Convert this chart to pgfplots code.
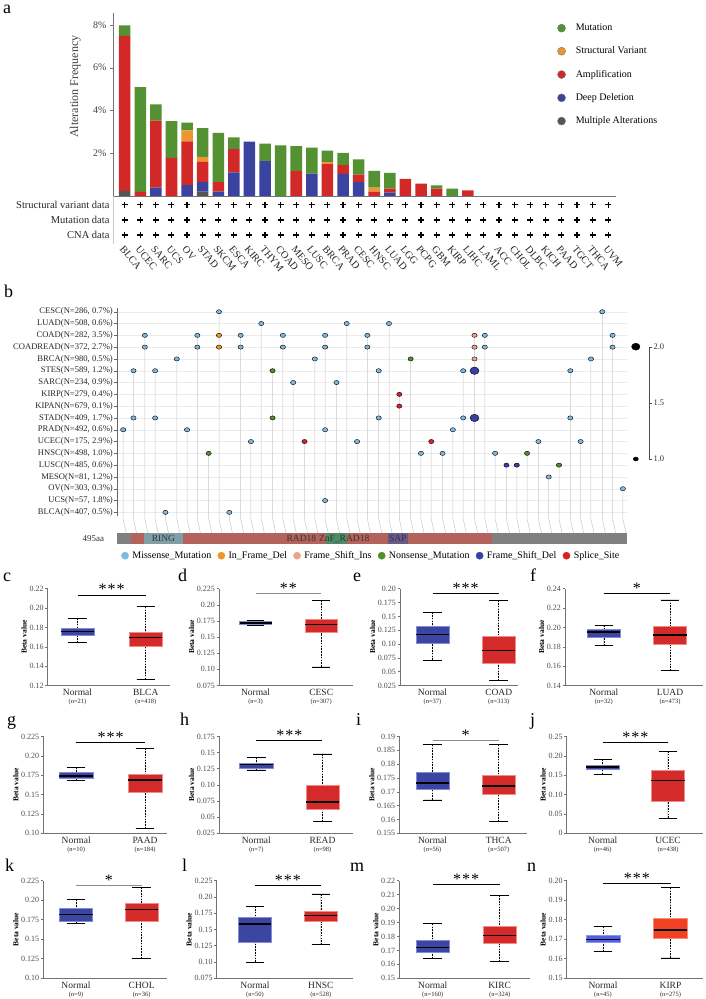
\documentclass[border=0pt]{standalone}
\usepackage{fontspec}
\setmainfont{Liberation Serif}
\usepackage{pgfplots}
\usepackage{pgfplotstable}
\pgfplotsset{compat=1.18}
\usepgfplotslibrary{statistics}

\definecolor{mutgreen}{RGB}{83,145,50}
\definecolor{svorange}{RGB}{235,150,50}
\definecolor{ampred}{RGB}{210,40,40}
\definecolor{delblue}{RGB}{58,68,160}
\definecolor{multigray}{RGB}{85,85,85}
\definecolor{missense}{RGB}{125,185,222}
\definecolor{inframe}{RGB}{240,150,40}
\definecolor{fsins}{RGB}{236,165,140}
\definecolor{nonsense}{RGB}{80,145,40}
\definecolor{fsdel}{RGB}{55,65,165}
\definecolor{splice}{RGB}{215,35,40}
\definecolor{bpblue}{RGB}{58,70,162}
\definecolor{bpblueE}{RGB}{130,140,215}
\definecolor{bpred}{RGB}{212,42,42}
\definecolor{bpredE}{RGB}{240,140,140}
\definecolor{nblue}{RGB}{80,95,230}
\definecolor{nblueE}{RGB}{140,150,240}
\definecolor{nred}{RGB}{240,65,35}
\definecolor{nredE}{RGB}{250,140,120}
\definecolor{pgray}{RGB}{128,128,128}
\definecolor{pbrown}{RGB}{180,98,92}
\definecolor{pring}{RGB}{127,158,166}
\definecolor{pznf}{RGB}{78,140,105}
\definecolor{psap}{RGB}{105,90,140}

\newcommand{\fs}[1]{\fontsize{#1}{#1}\selectfont}

% panel a: alteration frequency (%) per segment
\pgfplotstableread{
x multi del amp sv mut
0 0.23 0 7.26 0 0.49
1 0 0 0.19 0 4.90
2 0 0.39 3.14 0 0.76
3 0 0 1.78 0 1.72
4 0 0.51 2.05 0.51 0.36
5 0.20 0.45 0.95 0.23 1.35
6 0 0.20 0.45 0 2.30
7 0 1.10 1.09 0 0.55
8 0 2.54 0 0 0
9 0 1.63 0 0 0.82
10 0 0 0 0 2.37
11 0 0 1.16 0 1.17
12 0 1.05 0 0 1.21
13 0 0 1.49 0.10 0.53
14 0 1.04 0.40 0 0.58
15 0 0.65 0.35 0 0.71
16 0 0 0.20 0.19 0.79
17 0 0.16 0.18 0 0.74
18 0 0 0.80 0 0
19 0 0 0.58 0 0
20 0 0 0.34 0 0.16
21 0 0 0 0 0.34
22 0 0 0.26 0 0
23 0 0 0 0 0
24 0 0 0 0 0
25 0 0 0 0 0
26 0 0 0 0 0
27 0 0 0 0 0
28 0 0 0 0 0
29 0 0 0 0 0
30 0 0 0 0 0
31 0 0 0 0 0
}\alterdata

\pgfplotstableread{
x sv mut cna
0 3 2 1
1 3 2 1
2 3 2 1
3 3 2 1
4 3 2 1
5 3 2 1
6 3 2 1
7 3 2 1
8 3 2 1
9 3 2 1
10 3 2 1
11 3 2 1
12 3 2 1
13 3 2 1
14 3 2 1
15 3 2 1
16 3 2 1
17 3 2 1
18 3 2 1
19 3 2 1
20 3 2 1
21 3 2 1
22 3 2 1
23 3 2 1
24 3 2 1
25 3 2 1
26 3 2 1
27 3 2 1
28 3 2 1
29 3 2 1
30 3 2 1
31 3 2 1
}\plusdata

\pgfplotsset{
  /pgf/number format/assume math mode=true,
  boxplot/draw/lower whisker/.code={%
    \draw[black, line width=0.55pt, dash pattern=on 1.6pt off 1.2pt]
      (boxplot box cs:\pgfplotsboxplotvalue{lower whisker},0.5) --
      (boxplot box cs:\pgfplotsboxplotvalue{lower quartile},0.5);
    \draw[black, line width=0.6pt, solid]
      (boxplot whisker cs:\pgfplotsboxplotvalue{lower whisker},0) --
      (boxplot whisker cs:\pgfplotsboxplotvalue{lower whisker},1);
  },
  boxplot/draw/upper whisker/.code={%
    \draw[black, line width=0.55pt, dash pattern=on 1.6pt off 1.2pt]
      (boxplot box cs:\pgfplotsboxplotvalue{upper whisker},0.5) --
      (boxplot box cs:\pgfplotsboxplotvalue{upper quartile},0.5);
    \draw[black, line width=0.6pt, solid]
      (boxplot whisker cs:\pgfplotsboxplotvalue{upper whisker},0) --
      (boxplot whisker cs:\pgfplotsboxplotvalue{upper whisker},1);
  },
  bpax/.style={scale only axis, anchor=south west, clip=false,
    axis x line*=bottom, axis y line*=left,
    axis line style={black!55, line width=0.8pt},
    tick align=outside, major tick length=2.5pt, tick style={black!55, line width=0.6pt},
    xtick={1,2}, xtick style={draw=none},
    yticklabel style={font=\fs{8}, text=black!70, inner sep=1.5pt},
    xticklabel style={align=center, font=\fs{9.5}, text=black!85, inner sep=1pt},
    ylabel={Beta value}, ylabel style={font=\bfseries\fs{7.5}, inner sep=1pt},
    boxplot/draw direction=y,
    boxplot/every median/.style={black, line width=1.4pt, solid},
  },
}
\newcommand{\bpbox}[8]{\addplot[fill=#7, draw=#8, line width=0.5pt,
  boxplot prepared={draw position=#1, lower whisker=#2, lower quartile=#3,
  median=#4, upper quartile=#5, upper whisker=#6}] coordinates {};}
\newcommand{\sig}[3]{\addplot[#3] coordinates {(1,#1) (2,#1)};
  \node[anchor=base, font=\fs{16}, inner sep=0pt] at (axis cs:1.5,#1) {#2};}

\begin{document}
\begin{tikzpicture}
\path[use as bounding box] (0pt,0pt) rectangle (705pt,999pt);

% ---------------- panel labels
\node[anchor=base west, font=\fs{18}, inner sep=0pt] at (3pt,985.5pt) {a};
\node[anchor=base west, font=\fs{18}, inner sep=0pt] at (4pt,701pt) {b};
\node[anchor=base west, font=\fs{18}, inner sep=0pt] at (3pt,417pt) {c};
\node[anchor=base west, font=\fs{18}, inner sep=0pt] at (178pt,417pt) {d};
\node[anchor=base west, font=\fs{18}, inner sep=0pt] at (353pt,417pt) {e};
\node[anchor=base west, font=\fs{18}, inner sep=0pt] at (530pt,417pt) {f};
\node[anchor=base west, font=\fs{18}, inner sep=0pt] at (7pt,273pt) {g};
\node[anchor=base west, font=\fs{18}, inner sep=0pt] at (180pt,273pt) {h};
\node[anchor=base west, font=\fs{18}, inner sep=0pt] at (356pt,273pt) {i};
\node[anchor=base west, font=\fs{18}, inner sep=0pt] at (530pt,273pt) {j};
\node[anchor=base west, font=\fs{18}, inner sep=0pt] at (5pt,127pt) {k};
\node[anchor=base west, font=\fs{18}, inner sep=0pt] at (182pt,127pt) {l};
\node[anchor=base west, font=\fs{18}, inner sep=0pt] at (350pt,127pt) {m};
\node[anchor=base west, font=\fs{18}, inner sep=0pt] at (527pt,127pt) {n};

% ---------------- panel a: bars
\begin{axis}[at={(113pt,803pt)}, anchor=south west, scale only axis,
  width=503pt, height=183.3pt,
  xmin=-0.75, xmax=31.5, ymin=0, ymax=8.575,
  ybar stacked, bar width=0.74,
  axis x line*=bottom, axis y line*=left,
  axis line style={black!55, line width=0.8pt},
  xtick=\empty, ytick={2,4,6,8}, yticklabels={2\%,4\%,6\%,8\%},
  tick align=outside, major tick length=3pt, tick style={black!55},
  yticklabel style={font=\fs{10}, text=black!75},
  ylabel={Alteration Frequency},
  every axis y label/.style={at={(axis description cs:-0.075,0.596)}, rotate=90, anchor=center, font=\fs{12}, text=black!75},
]
\addplot[fill=multigray, draw=none] table[x=x, y=multi] {\alterdata};
\addplot[fill=delblue, draw=none] table[x=x, y=del] {\alterdata};
\addplot[fill=ampred, draw=none] table[x=x, y=amp] {\alterdata};
\addplot[fill=svorange, draw=none] table[x=x, y=sv] {\alterdata};
\addplot[fill=mutgreen, draw=none] table[x=x, y=mut] {\alterdata};
\end{axis}

% ---------------- panel a: data availability + legend
\begin{axis}[at={(113pt,754.9pt)}, anchor=south west, scale only axis,
  width=503pt, height=48.3pt,
  xmin=-0.75, xmax=31.5, ymin=0.4, ymax=3.6, clip=false,
  axis x line*=bottom, axis y line*=left,
  x axis line style={draw=none}, y axis line style={black!20},
  xtick={0,...,31}, ytick={1,2,3},
  xtick style={draw=none}, ytick style={draw=none},
  yticklabels={CNA data, Mutation data, Structural variant data},
  yticklabel style={font=\fs{10.5}, text=black!85},
  xticklabels={BLCA,UCEC,SARC,UCS,OV,STAD,SKCM,ESCA,KIRC,THYM,COAD,MESO,LUSC,BRCA,PRAD,CESC,HNSC,LUAD,LGG,PCPG,GBM,KIRP,LIHC,LAML,ACC,CHOL,DLBC,KICH,PAAD,TGCT,THCA,UVM},
  xticklabel style={rotate=-50, anchor=north west, font=\fs{10.2}, text=black!85, inner sep=0.5pt},
  legend style={at={(0.883,4.60)}, anchor=north west, draw=none, fill=none,
    font=\fs{10}, row sep=10.8pt, inner sep=0pt,
    /tikz/every odd column/.append style={column sep=8pt}},
  legend cell align=left,
]
\addlegendimage{legend image code/.code={\draw[black!55, fill=mutgreen, line width=0.4pt] (0pt,0pt) circle (4pt);}}
\addlegendentry{Mutation}
\addlegendimage{legend image code/.code={\draw[black!55, fill=svorange, line width=0.4pt] (0pt,0pt) circle (4pt);}}
\addlegendentry{Structural Variant}
\addlegendimage{legend image code/.code={\draw[black!55, fill=ampred, line width=0.4pt] (0pt,0pt) circle (4pt);}}
\addlegendentry{Amplification}
\addlegendimage{legend image code/.code={\draw[black!55, fill=delblue, line width=0.4pt] (0pt,0pt) circle (4pt);}}
\addlegendentry{Deep Deletion}
\addlegendimage{legend image code/.code={\draw[black!55, fill=multigray, line width=0.4pt] (0pt,0pt) circle (4pt);}}
\addlegendentry{Multiple Alterations}
\addplot[only marks, mark=+, mark size=3pt, line width=1.2pt, black, forget plot] table[x=x, y=sv] {\plusdata};
\addplot[only marks, mark=+, mark size=3pt, line width=1.2pt, black, forget plot] table[x=x, y=mut] {\plusdata};
\addplot[only marks, mark=+, mark size=3pt, line width=1.2pt, black, forget plot] table[x=x, y=cna] {\plusdata};
\end{axis}

% ---------------- panel b: lollipop
\begin{axis}[at={(117pt,483.1pt)}, anchor=south west, scale only axis,
  width=510pt, height=207.7pt,
  xmin=0, xmax=495, ymin=-0.3, ymax=17.3, clip=false,
  axis x line=none, axis y line*=left,
  y axis line style={black!60, line width=0.6pt},
  ytick={0,...,17}, tick align=outside, major tick length=2.5pt, ytick style={black!60},
  ymajorgrids, grid style={black!8, line width=0.4pt},
  yticklabels={{BLCA(N=407, 0.5\%)},{UCS(N=57, 1.8\%)},{OV(N=303, 0.3\%)},{MESO(N=81, 1.2\%)},{LUSC(N=485, 0.6\%)},{HNSC(N=498, 1.0\%)},{UCEC(N=175, 2.9\%)},{PRAD(N=492, 0.6\%)},{STAD(N=409, 1.7\%)},{KIPAN(N=679, 0.1\%)},{KIRP(N=279, 0.4\%)},{SARC(N=234, 0.9\%)},{STES(N=589, 1.2\%)},{BRCA(N=980, 0.5\%)},{COADREAD(N=372, 2.7\%)},{COAD(N=282, 3.5\%)},{LUAD(N=508, 0.6\%)},{CESC(N=286, 0.7\%)}},
  yticklabel style={font=\fs{8.6}, text=black!85, inner sep=1.5pt},
  unbounded coords=jump,
  legend style={at={(0.008,-0.1916)}, anchor=west, draw=none, fill=none,
    font=\fs{10}, inner sep=0pt, legend columns=6,
    /tikz/every odd column/.append style={column sep=1.5pt},
    /tikz/every even column/.append style={column sep=4.3pt}},
]
\addlegendimage{legend image code/.code={\fill[missense] (0pt,0pt) circle (3.6pt);}}
\addlegendentry{Missense\_Mutation}
\addlegendimage{legend image code/.code={\fill[inframe] (0pt,0pt) circle (3.6pt);}}
\addlegendentry{In\_Frame\_Del}
\addlegendimage{legend image code/.code={\fill[fsins] (0pt,0pt) circle (3.6pt);}}
\addlegendentry{Frame\_Shift\_Ins}
\addlegendimage{legend image code/.code={\fill[nonsense] (0pt,0pt) circle (3.6pt);}}
\addlegendentry{Nonsense\_Mutation}
\addlegendimage{legend image code/.code={\fill[fsdel] (0pt,0pt) circle (3.6pt);}}
\addlegendentry{Frame\_Shift\_Del}
\addlegendimage{legend image code/.code={\fill[splice] (0pt,0pt) circle (3.6pt);}}
\addlegendentry{Splice\_Site}
% protein bar
\addplot[fill=pgray, draw=none, forget plot] coordinates {(0,-2.69) (13.6,-2.69) (13.6,-1.75) (0,-1.75)} -- cycle;
\addplot[fill=pbrown, draw=none, forget plot] coordinates {(13.6,-2.69) (364,-2.69) (364,-1.75) (13.6,-1.75)} -- cycle;
\addplot[fill=pring, draw=none, forget plot] coordinates {(26.2,-2.69) (64.1,-2.69) (64.1,-1.75) (26.2,-1.75)} -- cycle;
\addplot[fill=pznf, draw=none, forget plot] coordinates {(202.9,-2.69) (223.2,-2.69) (223.2,-1.75) (202.9,-1.75)} -- cycle;
\addplot[fill=psap, draw=none, forget plot] coordinates {(263,-2.69) (282.4,-2.69) (282.4,-1.75) (263,-1.75)} -- cycle;
\addplot[fill=pgray, draw=none, forget plot] coordinates {(364,-2.69) (495,-2.69) (495,-1.75) (364,-1.75)} -- cycle;
\node[font=\fs{9.5}, text=black!80] at (axis cs:45,-2.22) {RING};
\node[font=\fs{9.5}, text=black!80] at (axis cs:179,-2.22) {RAD18};
\node[font=\fs{9.5}, text=black!80] at (axis cs:220.5,-2.22) {ZnF\_RAD18};
\node[font=\fs{9.5}, text=black!80] at (axis cs:272.5,-2.22) {SAP};
\node[font=\fs{9}, text=black!80, anchor=east] at (axis cs:-9,-2.22) {495aa};
% stems and connectors
\addplot[black!22, line width=0.5pt, forget plot] coordinates {
(9,-1.75) (6,-0.55) (6,7) (6,nan)
(19,-1.75) (16,-0.55) (16,12) (16,nan)
(30,-1.75) (27,-0.55) (27,15) (27,nan)
(40,-1.75) (37,-0.55) (37,12) (37,nan)
(50,-1.75) (47,-0.55) (47,0) (47,nan)
(61,-1.75) (58,-0.55) (58,13) (58,nan)
(71,-1.75) (68,-0.55) (68,7) (68,nan)
(81,-1.75) (78,-0.55) (78,15) (78,nan)
(92,-1.75) (89,-0.55) (89,5) (89,nan)
(102,-1.75) (99,-0.55) (99,17) (99,nan)
(112,-1.75) (109,-0.55) (109,0) (109,nan)
(123,-1.75) (120,-0.55) (120,15) (120,nan)
(133,-1.75) (130,-0.55) (130,6) (130,nan)
(143,-1.75) (140,-0.55) (140,16) (140,nan)
(154,-1.75) (151,-0.55) (151,12) (151,nan)
(164,-1.75) (161,-0.55) (161,15) (161,nan)
(174,-1.75) (171,-0.55) (171,11) (171,nan)
(185,-1.75) (182,-0.55) (182,6) (182,nan)
(195,-1.75) (192,-0.55) (192,13) (192,nan)
(205,-1.75) (202,-0.55) (202,15) (202,nan)
(216,-1.75) (213,-0.55) (213,11) (213,nan)
(226,-1.75) (223,-0.55) (223,16) (223,nan)
(236,-1.75) (233,-0.55) (233,6) (233,nan)
(246,-1.75) (243,-0.55) (243,15) (243,nan)
(257,-1.75) (254,-0.55) (254,12) (254,nan)
(267,-1.75) (264,-0.55) (264,16) (264,nan)
(277,-1.75) (274,-0.55) (274,10) (274,nan)
(288,-1.75) (285,-0.55) (285,13) (285,nan)
(298,-1.75) (295,-0.55) (295,5) (295,nan)
(308,-1.75) (305,-0.55) (305,6) (305,nan)
(319,-1.75) (316,-0.55) (316,5) (316,nan)
(329,-1.75) (326,-0.55) (326,7) (326,nan)
(339,-1.75) (336,-0.55) (336,12) (336,nan)
(350,-1.75) (347,-0.55) (347,15) (347,nan)
(360,-1.75) (357,-0.55) (357,15) (357,nan)
(370,-1.75) (367,-0.55) (367,5) (367,nan)
(381,-1.75) (378,-0.55) (378,4) (378,nan)
(391,-1.75) (388,-0.55) (388,4) (388,nan)
(401,-1.75) (398,-0.55) (398,5) (398,nan)
(412,-1.75) (409,-0.55) (409,6) (409,nan)
(422,-1.75) (419,-0.55) (419,3) (419,nan)
(432,-1.75) (429,-0.55) (429,4) (429,nan)
(443,-1.75) (440,-0.55) (440,12) (440,nan)
(453,-1.75) (450,-0.55) (450,6) (450,nan)
(463,-1.75) (460,-0.55) (460,13) (460,nan)
(474,-1.75) (471,-0.55) (471,17) (471,nan)
(484,-1.75) (481,-0.55) (481,15) (481,nan)
(494,-1.75) (491,-0.55) (491,2)
};
% mutation points
\addplot[only marks, mark=*, mark size=2.1pt, mark options={xscale=1.25, fill=missense, draw=none}, forget plot] coordinates {
(6,7) (16,12) (16,8) (27,15) (27,14) (37,12) (37,8) (47,0) (58,13) (68,7) (78,15) (78,14)
(99,17) (109,0) (120,15) (120,14) (130,6) (140,16) (161,15) (161,14) (171,11) (192,13)
(202,15) (202,14) (202,7) (202,1) (213,11) (223,16) (233,6) (243,15) (243,14) (254,12) (254,8)
(264,16) (295,5) (316,5) (326,7) (336,12) (336,8) (357,15) (357,14) (367,5) (409,6) (419,3)
(440,12) (440,8) (450,6) (460,13) (471,17) (481,15) (481,14) (491,2)};
\addplot[only marks, mark=*, mark size=2.1pt, mark options={xscale=1.25, fill=inframe, draw=none}, forget plot] coordinates {(99,15) (99,14)};
\addplot[only marks, mark=*, mark size=2.1pt, mark options={xscale=1.25, fill=fsins, draw=none}, forget plot] coordinates {(347,15) (347,14) (347,13)};
\addplot[only marks, mark=*, mark size=2.1pt, mark options={xscale=1.25, fill=nonsense, draw=none}, forget plot] coordinates {(89,5) (151,12) (151,8) (285,13) (398,5) (429,4)};
\addplot[only marks, mark=*, mark size=2.1pt, mark options={xscale=1.25, fill=fsdel, draw=none}, forget plot] coordinates {(378,4) (388,4)};
\addplot[only marks, mark=*, mark size=3.7pt, mark options={xscale=1.2, fill=fsdel, draw=none}, forget plot] coordinates {(347,12) (347,8)};
\addplot[only marks, mark=*, mark size=2.1pt, mark options={xscale=1.25, fill=splice, draw=none}, forget plot] coordinates {(182,6) (274,10) (274,9) (305,6)};
\end{axis}

% ---------------- panel b: size legend
\begin{axis}[at={(630pt,540pt)}, anchor=south west, scale only axis,
  width=19.3pt, height=112.3pt, xmin=0, xmax=1, ymin=1, ymax=2, clip=false,
  axis x line=none, axis y line*=right, y axis line style={black!70, line width=0.6pt},
  ytick={1,1.5,2}, yticklabels={1.0,1.5,2.0}, tick align=outside, major tick length=3pt,
  ytick style={black!70}, yticklabel style={font=\fs{8.5}, text=black!80, inner sep=1pt}]
\addplot[only marks, mark=*, mark size=3.5pt, mark options={xscale=1.2, fill=black}, black] coordinates {(0.3,2)};
\addplot[only marks, mark=*, mark size=2pt, mark options={xscale=1.25, fill=black}, black] coordinates {(0.3,1)};
\end{axis}

% ---------------- box plots row 1
\begin{axis}[bpax, at={(47.7pt,313.5pt)}, width=122.3pt, height=96.7pt,
  xmin=0.563, xmax=2.356, ymin=0.12, ymax=0.22,
  ytick={0.12,0.14,0.16,0.18,0.20,0.22}, yticklabels={0.12,0.14,0.16,0.18,0.20,0.22},
  boxplot/box extend=0.484, boxplot/whisker extend=0.27,
  xticklabels={{Normal\\[-1.4pt]{\fs{6.5}(n=21)}},{BLCA\\[-1.4pt]{\fs{6.5}(n=418)}}}]
\bpbox{1}{0.1645}{0.1722}{0.1757}{0.1788}{0.1896}{bpblue}{bpblueE}
\bpbox{2}{0.1266}{0.161}{0.1697}{0.175}{0.2014}{bpred}{bpredE}
\sig{0.2136}{*\kern1pt*\kern1pt*}{black, line width=0.5pt}
\end{axis}

\begin{axis}[bpax, at={(219pt,313.5pt)}, width=134pt, height=96.7pt,
  xmin=0.444, xmax=2.484, ymin=0.075, ymax=0.225,
  ytick={0.075,0.1,0.125,0.15,0.175,0.2,0.225}, yticklabels={0.075,0.10,0.125,0.15,0.175,0.20,0.225},
  boxplot/box extend=0.487, boxplot/whisker extend=0.27,
  xticklabels={{Normal\\[-1.4pt]{\fs{6.5}(n=3)}},{CESC\\[-1.4pt]{\fs{6.5}(n=307)}}}]
\bpbox{1}{0.169}{0.170}{0.172}{0.174}{0.176}{bpblue}{bpblueE}
\bpbox{2}{0.104}{0.157}{0.170}{0.178}{0.207}{bpred}{bpredE}
\sig{0.218}{*\kern1pt*}{black!45, line width=1pt}
\end{axis}

\begin{axis}[bpax, at={(400pt,313.5pt)}, width=118.3pt, height=96.7pt,
  xmin=0.509, xmax=2.296, ymin=0.025, ymax=0.2,
  ytick={0.025,0.05,0.075,0.1,0.125,0.15,0.175,0.2}, yticklabels={0.025,0.05,0.075,0.10,0.125,0.15,0.175,0.20},
  boxplot/box extend=0.5, boxplot/whisker extend=0.28,
  xticklabels={{Normal\\[-1.4pt]{\fs{6.5}(n=37)}},{COAD\\[-1.4pt]{\fs{6.5}(n=313)}}}]
\bpbox{1}{0.0711}{0.1013}{0.117}{0.132}{0.1577}{bpblue}{bpblueE}
\bpbox{2}{0.0337}{0.0652}{0.0883}{0.1137}{0.1795}{bpred}{bpredE}
\sig{0.1919}{*\kern1pt*\kern1pt*}{black, line width=0.5pt}
\end{axis}

\begin{axis}[bpax, at={(565pt,313.5pt)}, width=138.3pt, height=96.7pt,
  xmin=0.414, xmax=2.503, ymin=0.14, ymax=0.24,
  ytick={0.14,0.16,0.18,0.20,0.22,0.24}, yticklabels={0.14,0.16,0.18,0.20,0.22,0.24},
  boxplot/box extend=0.5, boxplot/whisker extend=0.28,
  xticklabels={{Normal\\[-1.4pt]{\fs{6.5}(n=32)}},{LUAD\\[-1.4pt]{\fs{6.5}(n=473)}}}]
\bpbox{1}{0.1814}{0.19}{0.1952}{0.1983}{0.2024}{bpblue}{bpblueE}
\bpbox{2}{0.1552}{0.1831}{0.1924}{0.2017}{0.2286}{bpred}{bpredE}
\sig{0.2353}{*}{black, line width=0.5pt}
\end{axis}

% ---------------- box plots row 2
\begin{axis}[bpax, at={(43.3pt,165.7pt)}, width=123.4pt, height=96.8pt,
  xmin=0.522, xmax=2.315, ymin=0.1, ymax=0.225,
  ytick={0.1,0.125,0.15,0.175,0.2,0.225}, yticklabels={0.10,0.125,0.15,0.175,0.20,0.225},
  boxplot/box extend=0.487, boxplot/whisker extend=0.27,
  xticklabels={{Normal\\[-1.4pt]{\fs{6.5}(n=10)}},{PAAD\\[-1.4pt]{\fs{6.5}(n=184)}}}]
\bpbox{1}{0.1684}{0.1706}{0.1741}{0.1794}{0.185}{bpblue}{bpblueE}
\bpbox{2}{0.1061}{0.1535}{0.1689}{0.1763}{0.2097}{bpred}{bpredE}
\sig{0.2175}{*\kern1pt*\kern1pt*}{black, line width=0.5pt}
\end{axis}

\begin{axis}[bpax, at={(219pt,165.7pt)}, width=134pt, height=96.8pt,
  xmin=0.437, xmax=2.461, ymin=0.025, ymax=0.175,
  ytick={0.025,0.05,0.075,0.1,0.125,0.15,0.175}, yticklabels={0.025,0.05,0.075,0.10,0.125,0.15,0.175},
  boxplot/box extend=0.5, boxplot/whisker extend=0.28,
  xticklabels={{Normal\\[-1.4pt]{\fs{6.5}(n=7)}},{READ\\[-1.4pt]{\fs{6.5}(n=98)}}}]
\bpbox{1}{0.1233}{0.1258}{0.1313}{0.1343}{0.143}{bpblue}{bpblueE}
\bpbox{2}{0.0431}{0.0628}{0.0735}{0.10}{0.1479}{bpred}{bpredE}
\sig{0.1685}{*\kern1pt*\kern1pt*}{black, line width=0.5pt}
\end{axis}

\begin{axis}[bpax, at={(399.3pt,165.7pt)}, width=127.4pt, height=96.8pt,
  xmin=0.498, xmax=2.423, ymin=0.155, ymax=0.19,
  ytick={0.155,0.16,0.165,0.17,0.175,0.18,0.185,0.19}, yticklabels={0.155,0.16,0.165,0.17,0.175,0.18,0.185,0.19},
  boxplot/box extend=0.5, boxplot/whisker extend=0.28,
  xticklabels={{Normal\\[-1.4pt]{\fs{6.5}(n=56)}},{THCA\\[-1.4pt]{\fs{6.5}(n=507)}}}]
\bpbox{1}{0.1671}{0.171}{0.1732}{0.1772}{0.187}{bpblue}{bpblueE}
\bpbox{2}{0.1592}{0.1691}{0.1721}{0.1761}{0.187}{bpred}{bpredE}
\sig{0.1885}{*}{black!45, line width=1pt}
\end{axis}

\begin{axis}[bpax, at={(566.7pt,165.7pt)}, width=136.3pt, height=96.8pt,
  xmin=0.449, xmax=2.536, ymin=0, ymax=0.25,
  ytick={0,0.05,0.1,0.15,0.2,0.25}, yticklabels={0,0.05,0.10,0.15,0.20,0.25},
  boxplot/box extend=0.51, boxplot/whisker extend=0.28,
  xticklabels={{Normal\\[-1.4pt]{\fs{6.5}(n=46)}},{UCEC\\[-1.4pt]{\fs{6.5}(n=438)}}}]
\bpbox{1}{0.1526}{0.1649}{0.171}{0.1763}{0.1912}{bpblue}{bpblueE}
\bpbox{2}{0.0395}{0.0833}{0.136}{0.164}{0.2123}{bpred}{bpredE}
\sig{0.235}{*\kern1pt*\kern1pt*}{black, line width=0.5pt}
\end{axis}

% ---------------- box plots row 3
\begin{axis}[bpax, at={(43.3pt,20.7pt)}, width=123.4pt, height=97.6pt,
  xmin=0.502, xmax=2.381, ymin=0.1, ymax=0.225,
  ytick={0.1,0.125,0.15,0.175,0.2,0.225}, yticklabels={0.10,0.125,0.15,0.175,0.20,0.225},
  boxplot/box extend=0.508, boxplot/whisker extend=0.28,
  xticklabels={{Normal\\[-1.4pt]{\fs{6.5}(n=9)}},{CHOL\\[-1.4pt]{\fs{6.5}(n=36)}}}]
\bpbox{1}{0.1698}{0.1729}{0.1815}{0.1892}{0.2009}{bpblue}{bpblueE}
\bpbox{2}{0.1255}{0.1729}{0.1879}{0.1957}{0.2164}{bpred}{bpredE}
\sig{0.2186}{*}{black!45, line width=1pt}
\end{axis}

\begin{axis}[bpax, at={(216.7pt,20.7pt)}, width=136.3pt, height=97.6pt,
  xmin=0.418, xmax=2.489, ymin=0.075, ymax=0.225,
  ytick={0.075,0.1,0.125,0.15,0.175,0.2,0.225}, yticklabels={0.075,0.10,0.125,0.15,0.175,0.20,0.225},
  boxplot/box extend=0.5, boxplot/whisker extend=0.28,
  xticklabels={{Normal\\[-1.4pt]{\fs{6.5}(n=50)}},{HNSC\\[-1.4pt]{\fs{6.5}(n=528)}}}]
\bpbox{1}{0.10}{0.1306}{0.1583}{0.169}{0.1857}{bpblue}{bpblueE}
\bpbox{2}{0.1265}{0.1622}{0.1714}{0.1776}{0.2046}{bpred}{bpredE}
\sig{0.2173}{*\kern1pt*\kern1pt*}{black, line width=0.5pt}
\end{axis}

\begin{axis}[bpax, at={(399.3pt,20.7pt)}, width=130.7pt, height=97.6pt,
  xmin=0.501, xmax=2.452, ymin=0.15, ymax=0.22,
  ytick={0.15,0.16,0.17,0.18,0.19,0.20,0.21,0.22}, yticklabels={0.15,0.16,0.17,0.18,0.19,0.20,0.21,0.22},
  boxplot/box extend=0.5, boxplot/whisker extend=0.28,
  xticklabels={{Normal\\[-1.4pt]{\fs{6.5}(n=160)}},{KIRC\\[-1.4pt]{\fs{6.5}(n=324)}}}]
\bpbox{1}{0.1641}{0.1689}{0.1723}{0.1771}{0.1891}{bpblue}{bpblueE}
\bpbox{2}{0.1621}{0.175}{0.1805}{0.1875}{0.2095}{bpred}{bpredE}
\sig{0.2176}{*\kern1pt*\kern1pt*}{black, line width=0.5pt}
\end{axis}

\begin{axis}[bpax, at={(566.7pt,20.7pt)}, width=136.3pt, height=97.6pt,
  xmin=0.462, xmax=2.481, ymin=0.15, ymax=0.20,
  ytick={0.15,0.16,0.17,0.18,0.19,0.20}, yticklabels={0.15,0.16,0.17,0.18,0.19,0.20},
  boxplot/box extend=0.5, boxplot/whisker extend=0.28,
  xticklabels={{Normal\\[-1.4pt]{\fs{6.5}(n=45)}},{KIRP\\[-1.4pt]{\fs{6.5}(n=275)}}}]
\bpbox{1}{0.1637}{0.1686}{0.170}{0.1718}{0.1764}{nblue}{nblueE}
\bpbox{2}{0.1605}{0.1705}{0.1747}{0.1808}{0.1964}{nred}{nredE}
\sig{0.1988}{*\kern1pt*\kern1pt*}{black, line width=0.5pt}
\end{axis}

\end{tikzpicture}
\end{document}
